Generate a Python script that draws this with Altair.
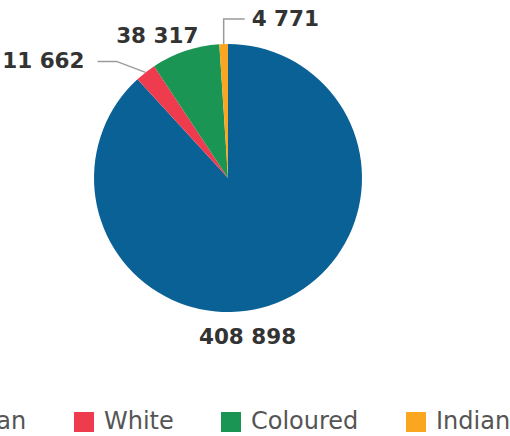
import altair as alt
import pandas as pd
import numpy as np

# ---- data ----
groups = ["Black African", "White", "Coloured", "Indian"]
population = [408898, 11662, 38317, 4771]
value_labels = ["408 898", "11 662", "38 317", "4 771"]
colors = ["#0a6196", "#ee3b4e", "#1a9553", "#fba621"]

# ---- layout constants ----
CX, CY, R = 228, 178, 134
FONT_BOLD = "DejaVu Sans"
# label offsets from the slice's outer edge point (layout only)
label_offset = {"Black African": (-29, 35, "center"),
                "White": (-61, -10, "right"),
                "Coloured": (-28, -14, "center"),
                "Indian": (28, -24, "left")}
# leader line bend points relative to the edge point
leader = {"White": [(-29, -11), (-48, -11)],
          "Indian": [(0, -25), (21, -25)]}

total = sum(population)
cum = np.cumsum([0] + population)
mids = [(cum[i] + population[i] / 2) / total * 2 * np.pi for i in range(len(groups))]
edges = [(CX + R * np.sin(a), CY - R * np.cos(a)) for a in mids]

pie_df = pd.DataFrame({"group": groups, "population": population,
                       "idx": list(range(len(groups)))})

lab_rows = []
for g, t, (ex, ey) in zip(groups, value_labels, edges):
    dx, dy, al = label_offset[g]
    lab_rows.append({"text": t, "x": ex + dx, "y": ey + dy, "align": al})
lab_df = pd.DataFrame(lab_rows)

line_rows = []
for g, (ex, ey) in zip(groups, edges):
    if g in leader:
        pts = [(0, 0)] + leader[g]
        for k, (ox, oy) in enumerate(pts):
            line_rows.append({"seg": g, "k": k, "x": ex + ox, "y": ey + oy})
line_df = pd.DataFrame(line_rows)

color_scale = alt.Scale(domain=groups, range=colors)

pie = alt.Chart(pie_df).mark_arc(outerRadius=R).encode(
    theta=alt.Theta("population:Q", stack=True),
    color=alt.Color("group:N", scale=color_scale, sort=groups,
                    legend=alt.Legend(title=None, orient="none",
                                      direction="horizontal",
                                      legendX=-162, legendY=410,
                                      symbolType="square", symbolSize=400,
                                      symbolStrokeWidth=0, symbolOpacity=1,
                                      labelFont="DejaVu Sans", labelFontSize=24,
                                      labelColor="#555555", labelOffset=8,
                                      labelLimit=400, columnPadding=45,
                                      padding=0)),
    order=alt.Order("idx:Q"),
    x=alt.value(CX),
    y=alt.value(CY),
)

lines = alt.Chart(line_df).mark_line(color="#9a9a9a", strokeWidth=1.5).encode(
    x=alt.X("x:Q", scale=None, axis=None),
    y=alt.Y("y:Q", scale=None, axis=None),
    detail="seg:N",
    order="k:Q",
)

def text_layer(al):
    return alt.Chart(lab_df).transform_filter(
        alt.datum.align == al
    ).mark_text(align=al, baseline="middle", font=FONT_BOLD, fontWeight="bold",
                fontSize=21.5, color="#333333").encode(
        x=alt.X("x:Q", scale=None, axis=None),
        y=alt.Y("y:Q", scale=None, axis=None),
        text="text:N",
    )

chart = alt.layer(pie, lines, text_layer("center"), text_layer("left"),
                  text_layer("right")).properties(
    width=510, height=436,
    autosize=alt.AutoSizeParams(type="none"),
    padding=0,
).configure(background="white").configure_view(stroke=None)

chart.save("out.html", embed_options={"renderer": "svg", "actions": False})
